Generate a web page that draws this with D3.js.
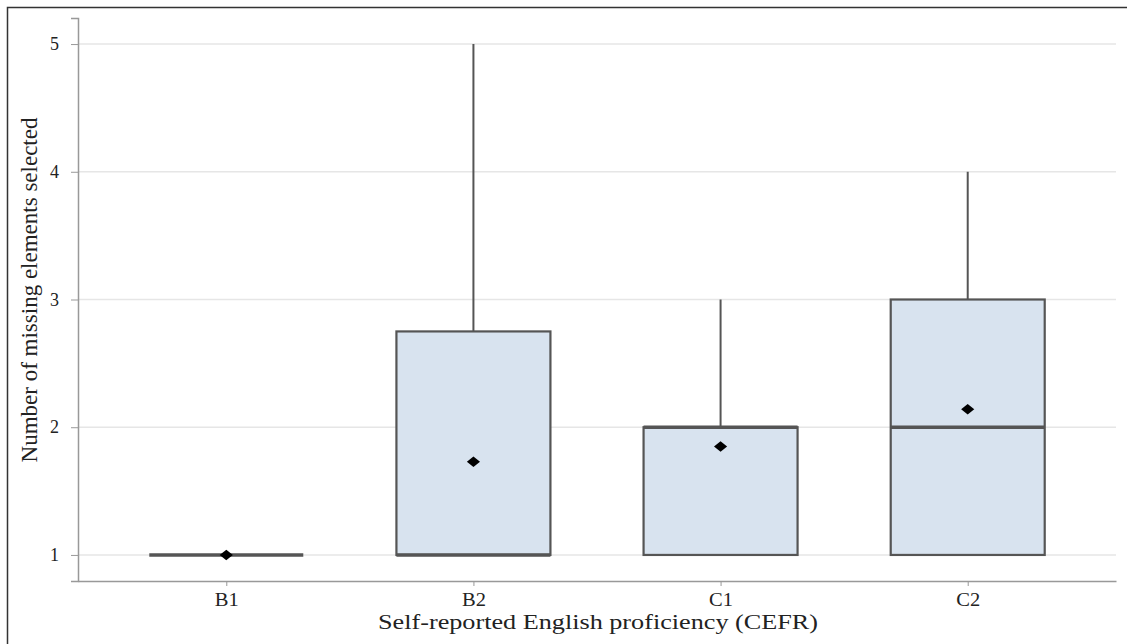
<!DOCTYPE html>
<html>
<head>
<meta charset="utf-8">
<script src="https://cdn.jsdelivr.net/npm/d3@7"></script>
<style>
  html, body { margin: 0; padding: 0; background: #fff; }
  svg { display: block; }
  text { font-family: "Liberation Serif", "Times New Roman", serif; fill: #222; }
</style>
</head>
<body>
<svg id="chart" width="1127" height="644"></svg>
<script>
// Box-plot summaries per CEFR level
const categories = ["B1", "B2", "C1", "C2"];
const whiskerLow = [1, 1, 1, 1];
const q1 = [1, 1, 1, 1];
const median = [1, 1, 2, 2];
const q3 = [1, 2.75, 2, 3];
const whiskerHigh = [1, 5, 3, 4];
const means = [1, 1.73, 1.85, 2.14];
const yTicks = [1, 2, 3, 4, 5];

const svg = d3.select("#chart");
const W = 1127, H = 644;
const margin = { left: 78, right: 11, top: 18, bottom: 63 };

// outer frame
svg.append("rect")
  .attr("x", 7.5).attr("y", 7.5)
  .attr("width", W + 10).attr("height", H + 10)
  .attr("fill", "none").attr("stroke", "#333").attr("stroke-width", 1.5);

const x = d3.scalePoint()
  .domain(categories)
  .range([margin.left, W - margin.right])
  .padding(0.6);

const y = d3.scaleLinear()
  .domain([0.796, 5.204])
  .range([H - margin.bottom, margin.top]);

const boxW = 154;

// horizontal gridlines
svg.append("g").selectAll("line").data(yTicks).join("line")
  .attr("x1", margin.left).attr("x2", W - margin.right)
  .attr("y1", d => y(d)).attr("y2", d => y(d))
  .attr("stroke", "#e6e6e6").attr("stroke-width", 1.5);

// y axis
const yAxis = svg.append("g")
  .attr("transform", `translate(${margin.left},0)`)
  .call(d3.axisLeft(y).tickValues(yTicks).tickFormat(d3.format("d")).tickSize(7).tickPadding(12));
yAxis.select(".domain").attr("stroke", "#999").attr("stroke-width", 1.5);
yAxis.selectAll(".tick line").attr("stroke", "#999");
yAxis.selectAll(".tick text").style("font-size", "18px").attr("fill", "#222");

// x axis
const xAxis = svg.append("g")
  .attr("transform", `translate(0,${H - margin.bottom})`)
  .call(d3.axisBottom(x).tickSize(5).tickSizeOuter(0).tickPadding(7));
xAxis.select(".domain").attr("stroke", "#999").attr("stroke-width", 1.5);
xAxis.selectAll(".tick line").attr("stroke", "#999");
xAxis.selectAll(".tick text")
  .style("font-size", "18px")
  .attr("fill", "#222")
  .attr("transform", "scale(1.14,1)");

// axis titles
svg.append("text")
  .attr("x", 598)
  .attr("y", 629)
  .attr("text-anchor", "middle")
  .attr("textLength", 440)
  .attr("lengthAdjust", "spacingAndGlyphs")
  .style("font-size", "20px")
  .text("Self-reported English proficiency (CEFR)");

svg.append("text")
  .attr("transform", `translate(37,290) rotate(-90)`)
  .attr("text-anchor", "middle")
  .style("font-size", "23px")
  .text("Number of missing elements selected");

const data = categories.map((c, i) => ({
  c, lo: whiskerLow[i], q1: q1[i], med: median[i], q3: q3[i], hi: whiskerHigh[i], mean: means[i]
}));

const stroke = "#555";
const g = svg.append("g");

// whiskers
g.selectAll(".wh-up").data(data.filter(d => d.hi > d.q3)).join("line")
  .attr("x1", d => x(d.c)).attr("x2", d => x(d.c))
  .attr("y1", d => y(d.q3)).attr("y2", d => y(d.hi))
  .attr("stroke", stroke).attr("stroke-width", 2);
g.selectAll(".wh-down").data(data.filter(d => d.lo < d.q1)).join("line")
  .attr("x1", d => x(d.c)).attr("x2", d => x(d.c))
  .attr("y1", d => y(d.q1)).attr("y2", d => y(d.lo))
  .attr("stroke", stroke).attr("stroke-width", 2);

// boxes
g.selectAll(".box").data(data.filter(d => d.q3 > d.q1)).join("rect")
  .attr("x", d => x(d.c) - boxW / 2)
  .attr("width", boxW)
  .attr("y", d => y(d.q3))
  .attr("height", d => y(d.q1) - y(d.q3))
  .attr("fill", "#d8e3ef")
  .attr("stroke", stroke).attr("stroke-width", 2.2);

// medians
g.selectAll(".med").data(data).join("line")
  .attr("x1", d => x(d.c) - boxW / 2).attr("x2", d => x(d.c) + boxW / 2)
  .attr("y1", d => y(d.med)).attr("y2", d => y(d.med))
  .attr("stroke", stroke).attr("stroke-width", 3.5);

// means
g.selectAll(".mean").data(data).join("path")
  .attr("d", d3.symbol(d3.symbolDiamond2, 110))
  .attr("transform", d => `translate(${x(d.c)},${y(d.mean)}) scale(1,0.8)`)
  .attr("fill", "#000");
</script>
</body>
</html>
